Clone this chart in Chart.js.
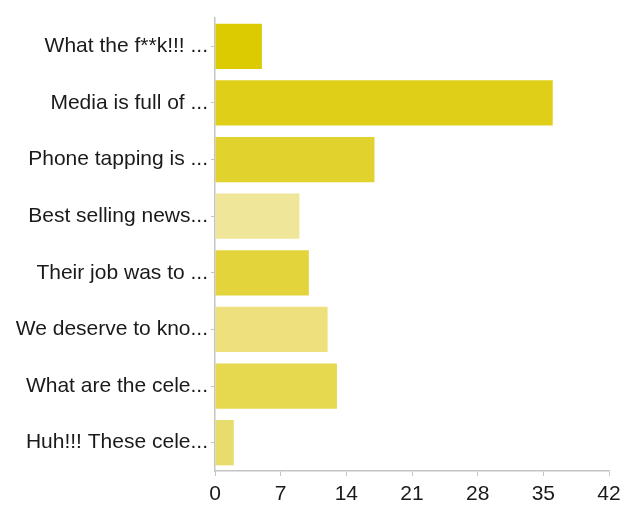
<!DOCTYPE html>
<html>
<head>
<meta charset="utf-8">
<script src="https://cdn.jsdelivr.net/npm/chart.js@4"></script>
<style>
  html, body { margin: 0; padding: 0; background: #fff; }
  #wrap { width: 621px; height: 505px; position: relative; }
</style>
</head>
<body>
<div id="wrap"><canvas id="chart"></canvas></div>
<script>
// answers (already cut short like the original)
const answers = [
    'What the f**k!!! ...',
    'Media is full of ...',
    'Phone tapping is ...',
    'Best selling news...',
    'Their job was to ...',
    'We deserve to kno...',
    'What are the cele...',
    'Huh!!! These cele...'
];
const counts = [5, 36, 17, 9, 10, 12, 13, 2];
const barColors = ['#dccb00', '#dfcf18', '#e2d22e', '#f0e699', '#e3d43c', '#eee07c', '#e6d84f', '#e8dc6c'];
const xTicks = [0, 7, 14, 21, 28, 35, 42];

const axisGrey = '#c4c4c4';
const font = 'Liberation Sans, Arial, Helvetica, sans-serif';

new Chart(document.getElementById('chart'), {
    type: 'bar',
    data: {
        labels: answers,
        datasets: [{
            data: counts,
            backgroundColor: barColors,
            borderWidth: 0,
            categoryPercentage: 0.8,
            barPercentage: 1.0
        }]
    },
    options: {
        indexAxis: 'y',
        responsive: true,
        maintainAspectRatio: false,
        animation: false,
        layout: { padding: { top: 18, right: 12, left: 0, bottom: 0 } },
        plugins: {
            legend: { display: false },
            tooltip: { enabled: false }
        },
        scales: {
            x: {
                min: xTicks[0],
                max: xTicks[xTicks.length - 1],
                afterBuildTicks: (axis) => { axis.ticks = xTicks.map(v => ({ value: v })); },
                afterFit: (axis) => {
                    axis.height = 34;
                    // let the "42" label run to the edge instead of shrinking the plot
                    axis.paddingRight = 0;
                    axis.paddingLeft = 0;
                },
                grid: { drawOnChartArea: false, color: axisGrey, tickLength: 5 },
                border: { color: axisGrey, width: 1.5 },
                ticks: { color: '#1a1a1a', padding: 6, font: { family: font, size: 21 } }
            },
            y: {
                afterFit: (axis) => { axis.width = 215; },
                grid: { drawOnChartArea: false, color: axisGrey, tickLength: 4, offset: false },
                border: { color: axisGrey, width: 1.5 },
                ticks: { color: '#1a1a1a', padding: 3, autoSkip: false, font: { family: font, size: 21 } }
            }
        }
    }
});
</script>
</body>
</html>
